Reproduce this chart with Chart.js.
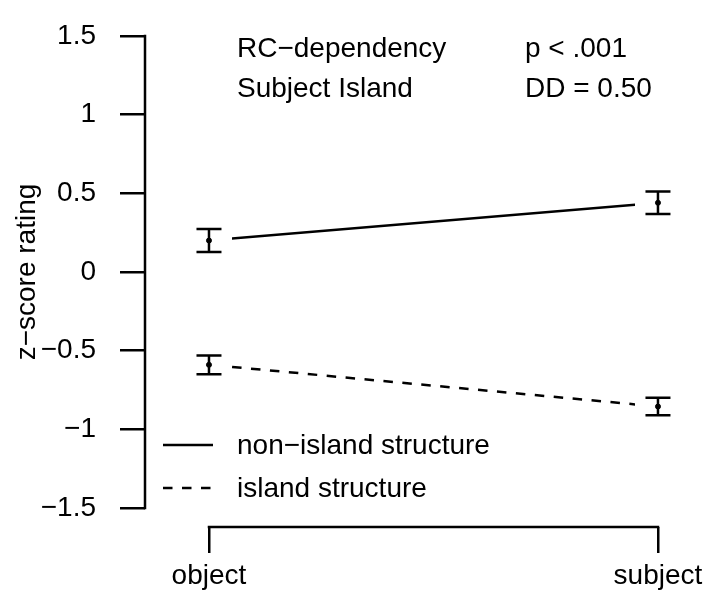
<!DOCTYPE html>
<html>
<head>
<meta charset="utf-8">
<script src="https://cdn.jsdelivr.net/npm/chart.js@4.4.0/dist/chart.umd.min.js"></script>
<style>
  body { margin: 0; background: #fff; }
</style>
</head>
<body>
<canvas id="chart" width="707" height="590"></canvas>
<script>
// data
const conditions = ['object', 'subject'];
const conditionX = [1, 2];
const nonIslandMeans = [0.20, 0.44];
const nonIslandSE = [0.073, 0.072];
const islandMeans = [-0.59, -0.855];
const islandSE = [0.060, 0.056];
const yTicks = [-1.5, -1, -0.5, 0, 0.5, 1, 1.5];
const seriesNames = ['non−island structure', 'island structure'];
const infoLeft = ['RC−dependency', 'Subject Island'];
const infoRight = ['p < .001', 'DD = 0.50'];

const FONT = "'Liberation Sans', Arial, Helvetica, sans-serif";
const FS = 28;
Chart.defaults.font.family = FONT;
Chart.defaults.font.size = FS;
Chart.defaults.color = '#000';

const LW = 2.5;
const GAP = 23;   // gap between line ends and points (R type="b")

function toPoints(means) {
  return means.map((m, i) => ({ x: conditionX[i], y: m }));
}

const series = [
  { name: seriesNames[0], means: nonIslandMeans, se: nonIslandSE, dash: [] },
  { name: seriesNames[1], means: islandMeans, se: islandSE, dash: [9.5, 9.5] }
];

const datasets = [];
series.forEach(s => {
  datasets.push({
    label: s.name,
    data: toPoints(s.means),
    showLine: true,
    borderColor: '#000',
    borderWidth: LW,
    borderDash: s.dash,
    borderDashOffset: s.dash.length ? 14.8 : 0,
    pointRadius: 0,
    gapped: true
  });
  datasets.push({
    label: s.name + ' means',
    data: toPoints(s.means),
    showLine: false,
    pointRadius: 2.5,
    borderWidth: 1,
    borderColor: '#000',
    backgroundColor: '#000'
  });
});

const rStyle = {
  id: 'rStyle',
  beforeDatasetDraw(chart, args) {
    const ds = chart.data.datasets[args.index];
    if (!ds.gapped) return;
    const { ctx, chartArea, scales: { x } } = chart;
    const x1 = x.getPixelForValue(conditionX[0]) + GAP;
    const x2 = x.getPixelForValue(conditionX[conditionX.length - 1]) - GAP;
    ctx.save();
    ctx.beginPath();
    ctx.rect(x1, chartArea.top, x2 - x1, chartArea.bottom - chartArea.top);
    ctx.clip();
  },
  afterDatasetDraw(chart, args) {
    if (chart.data.datasets[args.index].gapped) chart.ctx.restore();
  },
  afterDraw(chart) {
    const { ctx, chartArea, scales: { x, y } } = chart;
    ctx.save();
    ctx.strokeStyle = '#000';
    ctx.fillStyle = '#000';
    ctx.lineWidth = LW;
    ctx.lineCap = 'butt';

    // axis lines only between first and last tick, like R's axis()
    ctx.beginPath();
    ctx.moveTo(chartArea.left, y.getPixelForValue(yTicks[yTicks.length - 1]) - LW / 2);
    ctx.lineTo(chartArea.left, y.getPixelForValue(yTicks[0]) + LW / 2);
    ctx.moveTo(x.getPixelForValue(conditionX[0]) - LW / 2, chartArea.bottom);
    ctx.lineTo(x.getPixelForValue(conditionX[conditionX.length - 1]) + LW / 2, chartArea.bottom);
    ctx.stroke();

    // error bars
    series.forEach(s => {
      s.means.forEach((m, i) => {
        const px = x.getPixelForValue(conditionX[i]);
        const hi = y.getPixelForValue(m + s.se[i]);
        const lo = y.getPixelForValue(m - s.se[i]);
        ctx.beginPath();
        ctx.moveTo(px, hi);
        ctx.lineTo(px, lo);
        ctx.moveTo(px - 12.5, hi);
        ctx.lineTo(px + 12.5, hi);
        ctx.moveTo(px - 12.5, lo);
        ctx.lineTo(px + 12.5, lo);
        ctx.stroke();
      });
    });

    ctx.font = FS + 'px ' + FONT;
    ctx.textBaseline = 'alphabetic';
    ctx.textAlign = 'left';

    // text in the top corner
    infoLeft.forEach((t, i) => ctx.fillText(t, 237, 57 + i * 40));
    infoRight.forEach((t, i) => ctx.fillText(t, 525, 57 + i * 40));

    // legend
    series.forEach((s, i) => {
      const ly = 445 + i * 43;
      ctx.beginPath();
      ctx.setLineDash(s.dash);
      ctx.moveTo(163, ly);
      ctx.lineTo(213, ly);
      ctx.stroke();
      ctx.setLineDash([]);
      ctx.fillText(s.name, 237, ly + 9);
    });
    ctx.restore();
  }
};

new Chart(document.getElementById('chart'), {
  type: 'scatter',
  data: { datasets: datasets },
  options: {
    responsive: false,
    animation: false,
    layout: { padding: { top: 17, left: 0, right: 0, bottom: 0 }, autoPadding: false },
    plugins: { legend: { display: false }, tooltip: { enabled: false } },
    scales: {
      x: {
        type: 'linear',
        min: 0.8575,
        max: 2.1092,
        afterFit(scale) {
          scale.height = 63;
          scale.paddingLeft = 0;
          scale.paddingRight = 0;
        },
        afterBuildTicks(scale) { scale.ticks = conditionX.map(v => ({ value: v })); },
        ticks: {
          padding: 6,
          maxRotation: 0,
          callback: v => conditions[conditionX.indexOf(v)]
        },
        grid: { drawOnChartArea: false, drawTicks: true, tickLength: 26, color: '#000', lineWidth: LW },
        border: { display: false }
      },
      y: {
        min: -1.6208,
        max: 1.6208,
        afterFit(scale) {
          scale.width = 145;
          scale.paddingTop = 0;
          scale.paddingBottom = 0;
        },
        afterBuildTicks(scale) { scale.ticks = yTicks.map(v => ({ value: v })); },
        ticks: {
          padding: 24,
          callback: v => String(v).replace('-', '−')
        },
        grid: { drawOnChartArea: false, drawTicks: true, tickLength: 25, color: '#000', lineWidth: LW },
        border: { display: false },
        title: { display: true, text: 'z−score rating', padding: { top: 10, bottom: 0 } }
      }
    }
  },
  plugins: [rStyle]
});
</script>
</body>
</html>
